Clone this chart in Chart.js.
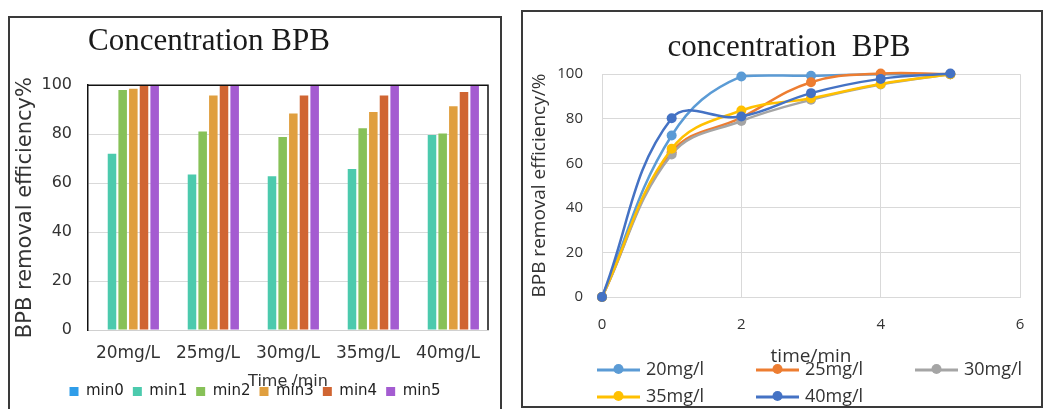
<!DOCTYPE html>
<html>
<head>
<meta charset="utf-8">
<script src="https://cdn.jsdelivr.net/npm/chart.js@4"></script>
<style>
  body { margin: 0; background: #fff; width: 1049px; height: 409px; overflow: hidden; position: relative; }
  .panel { position: absolute; border: 2px solid #3a3a3a; background: #fff; }
  #leftPanel { left: 8px; top: 16px; width: 490px; height: 391px; }
  #rightPanel { left: 521px; top: 10px; width: 518px; height: 394px; }
  canvas { display: block; }
</style>
</head>
<body>
<div class="panel" id="leftPanel"><canvas id="barChart" width="490" height="391"></canvas></div>
<div class="panel" id="rightPanel"><canvas id="lineChart" width="518" height="394"></canvas></div>
<script>
// bar chart data, removal % per concentration at each minute
var concLabels = ['20mg/L', '25mg/L', '30mg/L', '35mg/L', '40mg/L'];
var min0 = [0, 0, 0, 0, 0];
var min1 = [72, 63.5, 62.8, 65.8, 79.7];
var min2 = [98, 81.1, 78.8, 82.4, 80.3];
var min3 = [98.6, 95.8, 88.4, 89.1, 91.4];
var min4 = [100, 100, 95.8, 95.8, 97.2];
var min5 = [100, 100, 100, 100, 100];
var barNames = ['min0', 'min1', 'min2', 'min3', 'min4', 'min5'];
var barColors = ['#2f9de9', '#4ccaad', '#87c158', '#e09f3f', '#d06532', '#a45cd1'];

// line chart data, removal % against time
var timeMin = [0, 1, 2, 3, 4, 5];
var eff20 = [0, 72.5, 99, 99.3, 100, 100];
var eff25 = [0, 65, 80.5, 96.4, 100.3, 100];
var eff30 = [0, 64, 79, 88.5, 95.4, 100];
var eff35 = [0, 66.5, 83.7, 89.2, 95.6, 100];
var eff40 = [0, 80.2, 81, 91.5, 97.9, 100.3];
var lineNames = ['20mg/l', '25mg/l', '30mg/l', '35mg/l', '40mg/l'];
var lineColors = ['#5b9bd5', '#ed7d31', '#a5a5a5', '#ffc000', '#4472c4'];

// black frame on top and right of the bar plot area
var frameLines = {
  id: 'frameLines',
  afterDatasetsDraw: function(chart) {
    var a = chart.chartArea, ctx = chart.ctx;
    ctx.save();
    ctx.strokeStyle = '#111';
    ctx.lineWidth = 1.5;
    ctx.beginPath();
    ctx.moveTo(a.left, a.top);
    ctx.lineTo(a.right, a.top);
    ctx.lineTo(a.right, a.bottom);
    ctx.stroke();
    ctx.restore();
  }
};

// legend laid out in fixed columns, line + marker like the excel one
var gridLegend = {
  id: 'gridLegend',
  afterDraw: function(chart, args, opts) {
    var ctx = chart.ctx;
    ctx.save();
    ctx.font = opts.font;
    ctx.textBaseline = 'middle';
    chart.data.datasets.forEach(function(ds, i) {
      var col = i % opts.columns, row = Math.floor(i / opts.columns);
      var x = chart.chartArea.left + opts.offsetX + col * opts.colWidth;
      var y = chart.height - opts.bottom + row * opts.rowHeight;
      ctx.strokeStyle = ds.borderColor;
      ctx.lineWidth = 3;
      ctx.beginPath();
      ctx.moveTo(x, y);
      ctx.lineTo(x + opts.lineLength, y);
      ctx.stroke();
      ctx.fillStyle = ds.borderColor;
      ctx.beginPath();
      ctx.arc(x + opts.lineLength / 2, y - 1, 5, 0, Math.PI * 2);
      ctx.fill();
      ctx.fillStyle = opts.color;
      ctx.fillText(ds.label, x + opts.lineLength + 6, y);
    });
    ctx.restore();
  }
};

// empty axis used only as right-hand spacing
function spacerAxis(w) {
  return {
    position: 'right',
    display: true,
    grid: { display: false },
    border: { display: false },
    ticks: { display: false },
    afterFit: function(s) { s.width = w; }
  };
}

new Chart('barChart', {
  type: 'bar',
  data: {
    labels: concLabels,
    datasets: [min0, min1, min2, min3, min4, min5].map(function(vals, i) {
      return {
        label: barNames[i],
        data: vals,
        backgroundColor: barColors[i],
        categoryPercentage: 0.8,
        barPercentage: 0.8
      };
    })
  },
  options: {
    responsive: false,
    animation: false,
    layout: { padding: 0 },
    plugins: {
      title: {
        display: true,
        text: 'Concentration BPB',
        align: 'start',
        fullSize: false,
        color: '#1a1a1a',
        font: { family: 'Liberation Serif', size: 31, weight: 'normal' },
        padding: { top: 5, bottom: 25 }
      },
      legend: {
        position: 'bottom',
        labels: {
          boxWidth: 9,
          boxHeight: 9,
          padding: 9,
          color: '#222',
          font: { family: 'DejaVu Sans', size: 15 }
        }
      },
      tooltip: { enabled: false }
    },
    scales: {
      x: {
        grid: { display: false, drawTicks: false },
        border: { color: '#d0d0d0' },
        ticks: { color: '#333', padding: 13, font: { family: 'DejaVu Sans', size: 17 } },
        title: {
          display: true,
          text: 'Time /min',
          color: '#333',
          font: { family: 'DejaVu Sans', size: 16 },
          padding: { top: 0, bottom: -16 }
        },
        afterFit: function(s) { s.height = 45; }
      },
      y: {
        min: 0,
        max: 100,
        grid: { color: '#d9d9d9', drawTicks: false },
        border: { color: '#111', width: 1.5 },
        ticks: { stepSize: 20, color: '#333', padding: 16, font: { family: 'DejaVu Sans', size: 16 } },
        title: {
          display: true,
          text: 'BPB removal efficiency%',
          color: '#333',
          font: { family: 'DejaVu Sans', size: 21 },
          padding: { top: 3, bottom: 0 }
        },
        afterFit: function(s) { s.width = 78; }
      },
      pad: spacerAxis(12)
    }
  },
  plugins: [frameLines]
});

var lineSeries = [eff20, eff25, eff30, eff35, eff40];
new Chart('lineChart', {
  type: 'line',
  data: {
    datasets: lineSeries.map(function(vals, i) {
      return {
        label: lineNames[i],
        data: timeMin.map(function(t, k) { return { x: t, y: vals[k] }; }),
        borderColor: lineColors[i],
        backgroundColor: lineColors[i],
        borderWidth: 2.5,
        pointRadius: 5,
        pointBorderWidth: 0,
        tension: 0.4,
        fill: false,
        clip: false,
        order: lineSeries.length - i
      };
    })
  },
  options: {
    responsive: false,
    animation: false,
    layout: { padding: { left: 14, right: 0, top: 0, bottom: 43 } },
    plugins: {
      title: {
        display: true,
        text: 'concentration  BPB',
        align: 'center',
        color: '#1a1a1a',
        font: { family: 'Liberation Serif', size: 31, weight: 'normal' },
        padding: { top: 17, bottom: 8 }
      },
      legend: { display: false },
      tooltip: { enabled: false },
      gridLegend: {
        font: '18px "Open Sans"',
        color: '#333',
        columns: 3,
        offsetX: -5,
        colWidth: 159,
        lineLength: 43,
        bottom: 36,
        rowHeight: 27
      }
    },
    scales: {
      x: {
        type: 'linear',
        min: 0,
        max: 6,
        grid: { color: '#d9d9d9', drawTicks: false },
        border: { color: '#d9d9d9' },
        ticks: { stepSize: 2, color: '#333', padding: 3, font: { family: 'Open Sans', size: 15, lineHeight: 3.33 } },
        title: {
          display: true,
          text: 'time/min',
          color: '#333',
          font: { family: 'Open Sans', size: 19 },
          padding: { top: 0, bottom: -5 }
        },
        afterFit: function(s) { s.height = 66; }
      },
      y: {
        min: 0,
        max: 100,
        grid: { color: '#d9d9d9', drawTicks: false },
        border: { color: '#d9d9d9' },
        ticks: { stepSize: 20, color: '#333', padding: 19, font: { family: 'Open Sans', size: 15 } },
        title: {
          display: true,
          text: 'BPB removal efficiency/%',
          color: '#333',
          font: { family: 'Open Sans', size: 19 },
          padding: { top: -9, bottom: 0 }
        },
        afterFit: function(s) { s.width = 65; }
      },
      pad: spacerAxis(21)
    }
  },
  plugins: [gridLegend]
});
</script>
</body>
</html>
